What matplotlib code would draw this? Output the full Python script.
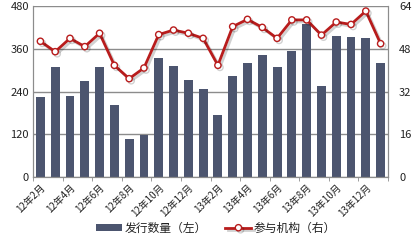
import numpy as np
import matplotlib
matplotlib.use('Agg')
import matplotlib.pyplot as plt
import matplotlib.patheffects as pe

plt.rcParams['font.family'] = ['Noto Sans CJK SC', 'DejaVu Sans']

# months 12年2月 .. 14年1月
months = ['12年%d月' % m for m in range(2, 13)] + ['13年%d月' % m for m in range(1, 13)] + ['14年1月']
issued = [224, 308, 226, 269, 308, 202, 108, 119, 333, 311, 271, 247,
          174, 284, 319, 342, 308, 354, 430, 255, 395, 393, 390, 321]
institutions = [50.8, 46.9, 51.9, 48.8, 53.8, 41.8, 36.8, 40.8, 53.3, 55.0, 53.8, 51.9,
                41.8, 56.3, 59.0, 56.0, 51.9, 58.8, 58.8, 53.1, 58.0, 57.1, 62.1, 49.9]

bar_color = '#4c556f'
line_color = '#b81c1c'
grid_color = '#8c8c8c'

fig = plt.figure(figsize=(4.16, 2.41), dpi=100)
ax = fig.add_axes([33 / 416, 1 - 177 / 241, (388 - 33) / 416, (177 - 6) / 241])
ax2 = ax.twinx()

x = np.arange(len(months))
ax.bar(x, issued, width=0.6, color=bar_color, zorder=2, label='发行数量（左）')
ax.set_xlim(-0.5, len(months) - 0.5)
ax.set_ylim(0, 480)
ax.set_yticks([0, 120, 240, 360, 480])
ax.yaxis.grid(True, color=grid_color, linewidth=1.0, zorder=0)
ax.set_axisbelow(True)

ax2.plot(x, institutions, color=line_color, linewidth=2, marker='o', markersize=4.5,
         markerfacecolor='white', markeredgecolor=line_color, markeredgewidth=1,
         label='参与机构（右）', zorder=3,
         path_effects=[pe.SimpleLineShadow(offset=(1.5, -1.5), alpha=0.18), pe.Normal()])
ax2.set_ylim(0, 64)
ax2.set_yticks([0, 16, 32, 48, 64])

for a in (ax, ax2):
    a.spines['top'].set_visible(False)
    a.spines['left'].set_color(grid_color)
    a.spines['right'].set_color(grid_color)
    a.spines['bottom'].set_color(grid_color)
    a.tick_params(axis='y', length=0, labelsize=8, colors='#222222')
ax.tick_params(axis='y', pad=3)
ax2.tick_params(axis='y', pad=8)

# category labels every other month, ticks at group boundaries
ax.set_xticks(x[::2])
ax.set_xticklabels(months[::2], rotation=45, ha='right', va='top', fontsize=7,
                   rotation_mode='anchor', color='#222222')
ax.tick_params(axis='x', length=0, pad=4)
ax.set_xticks(np.arange(-0.5, len(months), 2), minor=True)
ax.tick_params(axis='x', which='minor', length=3, color=grid_color, direction='out')

h1, l1 = ax.get_legend_handles_labels()
h2, l2 = ax2.get_legend_handles_labels()
fig.legend(h1 + h2, l1 + l2, loc='center', bbox_to_anchor=(216 / 416, 1 - 228 / 241),
           ncol=2, frameon=False, fontsize=8.5, handlelength=2.2, handleheight=0.5,
           columnspacing=1.6, handletextpad=0.2, labelcolor='#222222')

fig.savefig('out.png', dpi=100)
